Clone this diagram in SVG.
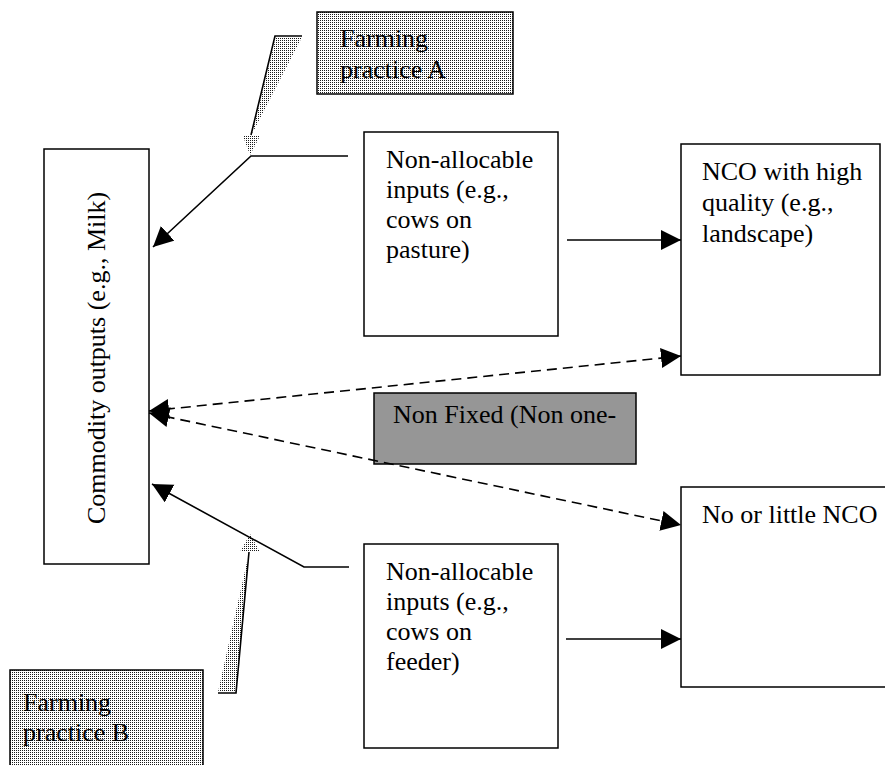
<svg xmlns="http://www.w3.org/2000/svg" width="885" height="765" viewBox="0 0 885 765">
  <style>
    .box { fill: #ffffff; stroke: #000000; stroke-width: 1.5; }
    .stip { fill: url(#stipple); stroke: #000000; stroke-width: 1.5; }
    .gray { fill: #969696; stroke: #000000; stroke-width: 1.5; }
    .t { font-family: "Liberation Serif", "Times New Roman", serif; font-size: 26px; fill: #000000; }
    .line { fill: none; stroke: #000000; stroke-width: 1.6; }
    .dash { fill: none; stroke: #000000; stroke-width: 1.6; stroke-dasharray: 10 6; }
    .callout { fill: none; stroke: #000000; stroke-width: 1.6; }
    .wedge { fill: url(#stipple); stroke: none; }
  </style>
  <defs>
    <pattern id="stipple" patternUnits="userSpaceOnUse" x="0" y="0" width="2" height="2">
      <rect x="0" y="0" width="2" height="2" fill="#ffffff"/>
      <rect x="0" y="0" width="1" height="1" fill="#1a1a1a"/>
    </pattern>
    <marker id="arrow" markerUnits="userSpaceOnUse" markerWidth="22" markerHeight="22" refX="20" refY="10" orient="auto-start-reverse">
      <path d="M0,0 L20,10 L0,20 Z" fill="#000000"/>
    </marker>
  </defs>

  <rect width="885" height="765" fill="#ffffff"/>

  <g id="commodity-outputs">
    <rect class="box" x="44" y="149" width="105" height="415"/>
    <text class="t" text-anchor="middle" transform="translate(105,358) rotate(-90)">Commodity outputs (e.g., Milk)</text>
  </g>

  <g id="farming-practice-a">
    <rect class="stip" x="317" y="12" width="196" height="82"/>
    <text class="t" x="340" y="47">Farming</text>
    <text class="t" x="340" y="78">practice A</text>
    <polygon class="wedge" points="276,37 302,37 252,134"/>
    <polyline class="callout" points="302,36 275,36 251,135"/>
    <polygon class="wedge" points="243,136 260,136 250,155"/>
  </g>

  <g id="farming-practice-b">
    <rect class="stip" x="10" y="670" width="193" height="100"/>
    <text class="t" x="23" y="711">Farming</text>
    <text class="t" x="23" y="741">practice B</text>
    <polygon class="wedge" points="218,692 236,692 249,553"/>
    <polyline class="callout" points="218,693 236,693 249,552"/>
    <polygon class="wedge" points="250,534 240,552 260,552"/>
  </g>

  <g id="non-allocable-a">
    <rect class="box" x="364" y="132" width="194" height="204"/>
    <text class="t" x="386" y="168">Non-allocable</text>
    <text class="t" x="386" y="198">inputs (e.g.,</text>
    <text class="t" x="386" y="228">cows on</text>
    <text class="t" x="386" y="258">pasture)</text>
  </g>

  <g id="non-allocable-b">
    <rect class="box" x="364" y="544" width="194" height="204"/>
    <text class="t" x="386" y="580">Non-allocable</text>
    <text class="t" x="386" y="610">inputs (e.g.,</text>
    <text class="t" x="386" y="640">cows on</text>
    <text class="t" x="386" y="670">feeder)</text>
  </g>

  <g id="nco-high">
    <rect class="box" x="681" y="144" width="199" height="231"/>
    <text class="t" x="702" y="180">NCO with high</text>
    <text class="t" x="702" y="211">quality (e.g.,</text>
    <text class="t" x="702" y="242">landscape)</text>
  </g>

  <g id="nco-little">
    <path class="box" d="M890,487 L681,487 L681,687 L890,687"/>
    <text class="t" x="702" y="523">No or little NCO</text>
  </g>

  <g id="non-fixed">
    <rect class="gray" x="374" y="393" width="262" height="71"/>
    <text class="t" x="393" y="423">Non Fixed (Non one-</text>
  </g>

  <g id="connectors">
    <polyline class="line" points="348,156 251,156 153,247" marker-end="url(#arrow)"/>
    <polyline class="line" points="349,567 304,567 152,484" marker-end="url(#arrow)"/>
    <line class="line" x1="567" y1="240" x2="681" y2="240" marker-end="url(#arrow)"/>
    <line class="line" x1="566" y1="639" x2="681" y2="639" marker-end="url(#arrow)"/>
    <line class="dash" x1="149" y1="411" x2="681" y2="356" marker-start="url(#arrow)" marker-end="url(#arrow)"/>
    <line class="dash" x1="149" y1="413" x2="681" y2="525" marker-start="url(#arrow)" marker-end="url(#arrow)"/>
  </g>
</svg>
